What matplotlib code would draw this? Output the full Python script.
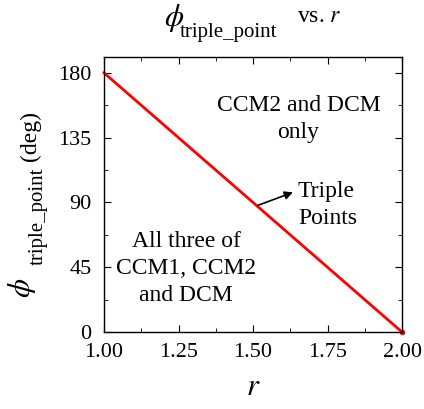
import matplotlib
matplotlib.use("Agg")
import matplotlib.pyplot as plt
from matplotlib.ticker import MultipleLocator

plt.rcParams['font.family'] = 'Liberation Serif'
plt.rcParams['mathtext.fontset'] = 'stix'

# data
r = [1.0, 2.0]
phi_triple = [180, 0]
x_ticks = [1.00, 1.25, 1.50, 1.75, 2.00]
y_ticks = [0, 45, 90, 135, 180]

W, H = 424, 409
fig = plt.figure(figsize=(W / 100, H / 100), dpi=100)
ax = fig.add_axes([104/W, 1 - 332/H, 298/W, 275/H])

ax.plot(r, phi_triple, color='red', lw=2, clip_on=False)
ax.plot([2.0], [0], 'o', color='red', ms=3, clip_on=False)

ax.set_xlim(1.0, 2.0)
ax.set_ylim(0, 191)
ax.set_xticks(x_ticks)
ax.set_xticklabels(['%.2f' % v for v in x_ticks])
ax.set_yticks(y_ticks)
ax.xaxis.set_minor_locator(MultipleLocator(0.125))
ax.yaxis.set_minor_locator(MultipleLocator(22.5))
ax.tick_params(which='both', direction='in', top=True, right=True, labelsize=16)
ax.tick_params(which='major', length=5)
ax.tick_params(which='minor', length=3)
ax.tick_params(axis='x', pad=8)
ax.tick_params(axis='y', pad=9)
for s in ax.spines.values():
    s.set_linewidth(1.0)

ax.set_xlabel(r'$r$', fontsize=22, labelpad=8)


def px(x, y):
    # pixel position (from top-left) -> figure fraction
    return x / W, 1 - y / H


# title, built from pieces so the subscript can be large
fig.text(*px(164, 26), r'$\phi$', fontsize=22, ha='left', va='baseline')
fig.text(*px(180, 37), 'triple_point', fontsize=15, ha='left', va='baseline')
fig.text(*px(297, 22), r'vs. $r$', fontsize=17, ha='left', va='baseline')

# y label, rotated pieces
fig.text(*px(30, 298), r'$\phi$', fontsize=22, rotation=90,
         rotation_mode='anchor', ha='left', va='baseline')
fig.text(*px(43, 265), 'triple_point', fontsize=15, rotation=90,
         rotation_mode='anchor', ha='left', va='baseline')
fig.text(*px(36, 161), '(deg)', fontsize=17, rotation=90,
         rotation_mode='anchor', ha='left', va='baseline')

ax.text(1.653, 148, 'CCM2 and DCM\nonly', fontsize=17, ha='center', va='center',
        linespacing=1.38)
ax.text(1.275, 44, 'All three of\nCCM1, CCM2\nand DCM', fontsize=17, ha='center',
        va='center', linespacing=1.38)
ax.text(1.651, 88, 'Triple\nPoints', fontsize=17, ha='left', va='center',
        linespacing=1.38)
ax.annotate('', xy=(1.634, 97), xytext=(1.517, 88),
            arrowprops=dict(arrowstyle='-|>', color='black', lw=1.2,
                            mutation_scale=12, shrinkA=0, shrinkB=0))

fig.savefig('out.png', dpi=100)
